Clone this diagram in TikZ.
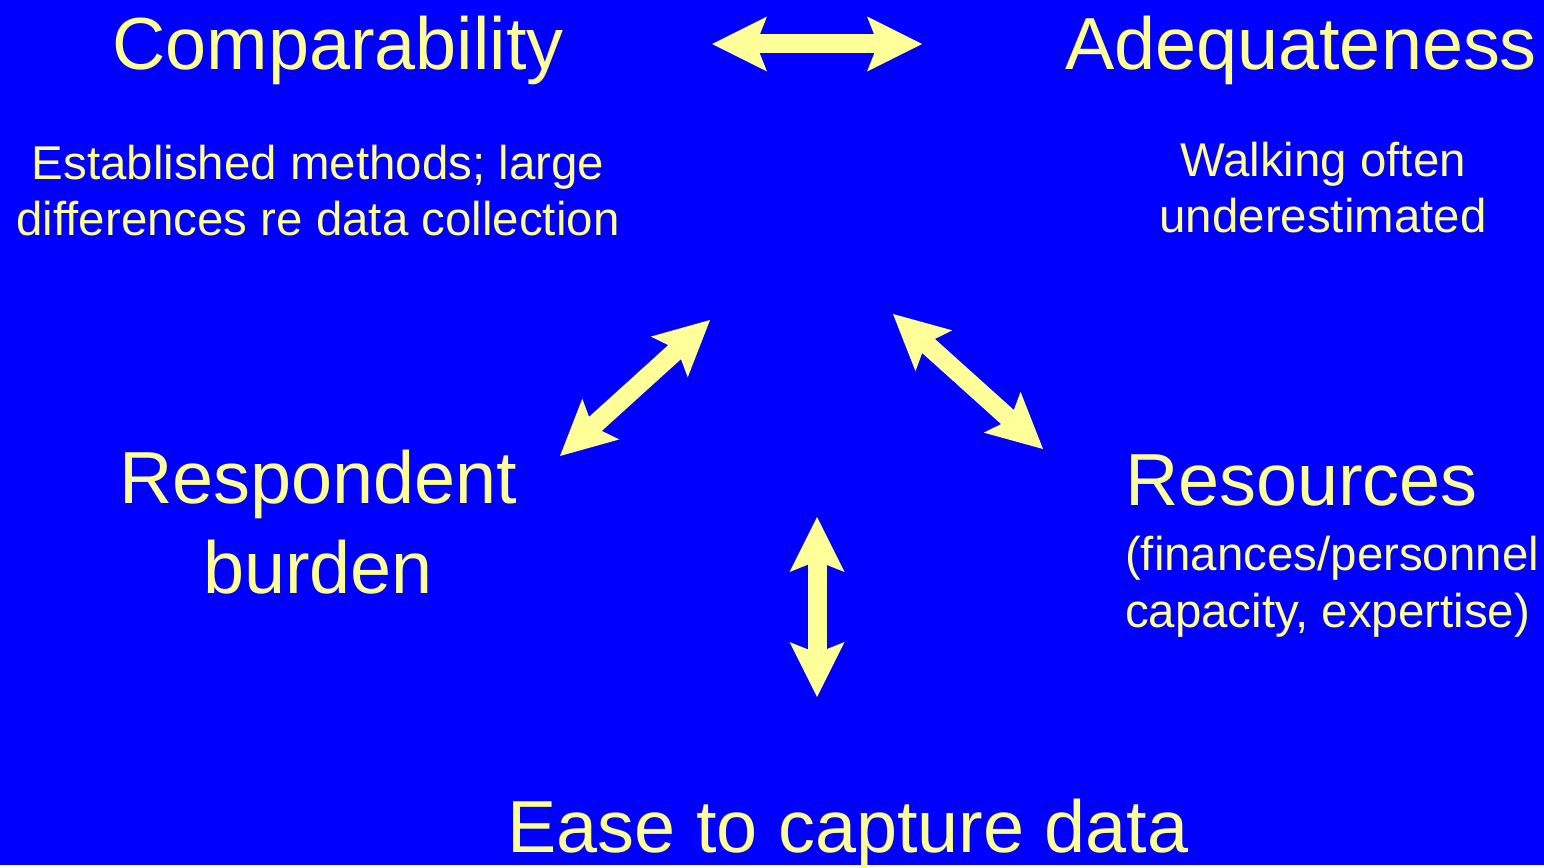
\documentclass[tikz,border=0pt]{standalone}
\usepackage{fontspec}
\setmainfont{Liberation Sans}
\usetikzlibrary{arrows.meta}
\definecolor{slideblue}{RGB}{0,0,255}
\definecolor{paleyellow}{RGB}{255,255,153}
\begin{document}
\begin{tikzpicture}
[x=0.02cm, y=-0.02cm,
title/.style={font=\fontsize{42}{51}\selectfont, align=center},
note/.style={font=\fontsize{27}{32.3}\selectfont, align=center},
twoway/.style={draw=paleyellow, line width=0.38cm,
    {Stealth[length=1.1cm,width=1.1cm,inset=0.22cm,line width=0pt]}-{Stealth[length=1.1cm,width=1.1cm,inset=0.22cm,line width=0pt]}}
]
\tikzset{every node/.style={text=paleyellow, inner sep=0pt, outer sep=0pt}}
%\tikzset{every node/.style={text=paleyellow,
%                            draw=red,
%                            inner sep=0pt
%                           }}
\fill[slideblue] (0,0) rectangle (1544,865);
\node[title, anchor=base] (comp) at (338,70) {Comparability};
\node[title, anchor=base] (adeq) at (1301,70) {Adequateness};
% multi-line nodes sit on their last line
\node[note, anchor=base] (compnote) at (318,236) {Established methods; large\\differences re data collection};
\node[note, anchor=base] (adeqnote) at (1323,233) {Walking often\\underestimated};
\node[title, anchor=base] (resp) at (318,593) {Respondent\\burden};
\node[title, anchor=base west] (res) at (1125,505) {Resources};
\node[note, align=left, anchor=base west] (resnote) at (1125,627) {(finances/personnel\\capacity, expertise)};
\node[title, anchor=base] (ease) at (848,852) {Ease to capture data};
% free arrow ends
\coordinate (top l) at (712,44);
\coordinate (top r) at (922,44);
\coordinate (left a) at (560,456);
\coordinate (left b) at (710,320);
\coordinate (right a) at (893,314);
\coordinate (right b) at (1043,449);
\coordinate (mid a) at (817,517);
\coordinate (mid b) at (817,697);
\draw[twoway] (top l) -- (top r);
\draw[twoway] (left a) -- (left b);
\draw[twoway] (right a) -- (right b);
\draw[twoway] (mid a) -- (mid b);
\end{tikzpicture}
\end{document}
